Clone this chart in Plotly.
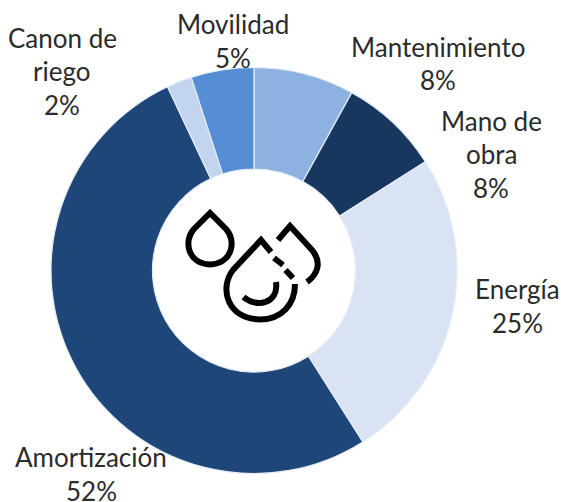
import plotly.graph_objects as go

labels = ["Mantenimiento", "Mano de<br>obra", "Energía", "Amortización", "Canon de<br>riego", "Movilidad"]
values = [8, 8, 25, 52, 2, 5]
colors = ["#8DB1E1", "#17375E", "#DAE3F3", "#1E4678", "#C3D4EE", "#558ED5"]
# centre of each label block and first-line centre, in window pixels
label_x = [438, 491, 517, 91, 62, 233]
label_y = [47, 121, 289, 457, 38, 24]

W, H = 561, 502
CX, CY, R = 254, 270.5, 203
LINE_STEP = 33.5


def px(x, y):
    return f"{x / W:.5f},{1 - y / H:.5f}"


def path(fmt, *pts):
    return fmt.format(*[px(*p) for p in pts])


fig = go.Figure(go.Pie(
    labels=[l.replace("<br>", " ") for l in labels],
    values=values,
    sort=False,
    direction="clockwise",
    rotation=0,
    hole=0.5,
    textinfo="none",
    marker=dict(colors=colors, line=dict(color="#E4ECF8", width=1.2)),
    domain=dict(x=[(CX - R) / W, (CX + R) / W], y=[1 - (CY + R) / H, 1 - (CY - R) / H]),
    showlegend=False,
))

for lab, v, x, y in zip(labels, values, label_x, label_y):
    lines = lab.split("<br>") + [f"{v}%"]
    for i, line in enumerate(lines):
        fig.add_annotation(
            text=line, x=x / W, y=1 - (y + i * LINE_STEP) / H,
            xref="paper", yref="paper", showarrow=False,
            xanchor="center", yanchor="middle",
            font=dict(family="Lato, Carlito, sans-serif", size=26, color="#2b2b2b"),
        )

icon = [
    path("M{} L{} C{} {} {} C{} {} {} Z", (210, 213), (194, 229), (183, 241), (188, 264), (210, 264.5),
         (232, 264), (237, 241), (226, 229)),
    path("M{} L{} L{} C{} {} {} C{} {} {}", (271, 252), (261, 240), (233, 270), (219, 288), (227, 319), (260, 319.5),
         (282, 319.5), (295, 304), (295, 284)),
    path("M{} L{}", (274, 258), (283, 265)),
    path("M{} L{}", (285.5, 270), (293, 278)),
    path("M{} C{} {} {}", (243.5, 297), (256, 308), (279, 304), (276, 282)),
    path("M{} L{} L{} C{} {} {}", (278, 240), (290, 226), (312, 250), (322, 262), (318, 274), (307, 282)),
]
for p in icon:
    fig.add_shape(type="path", path=p, xref="paper", yref="paper",
                  line=dict(color="#000000", width=6), fillcolor="rgba(0,0,0,0)", layer="above")

fig.update_layout(
    width=W, height=H,
    margin=dict(l=0, r=0, t=0, b=0),
    paper_bgcolor="white",
    plot_bgcolor="white",
)
fig.write_html("out.html", config={"displayModeBar": False},
               post_script="document.body.style.margin='0';document.body.style.overflow='hidden';")
